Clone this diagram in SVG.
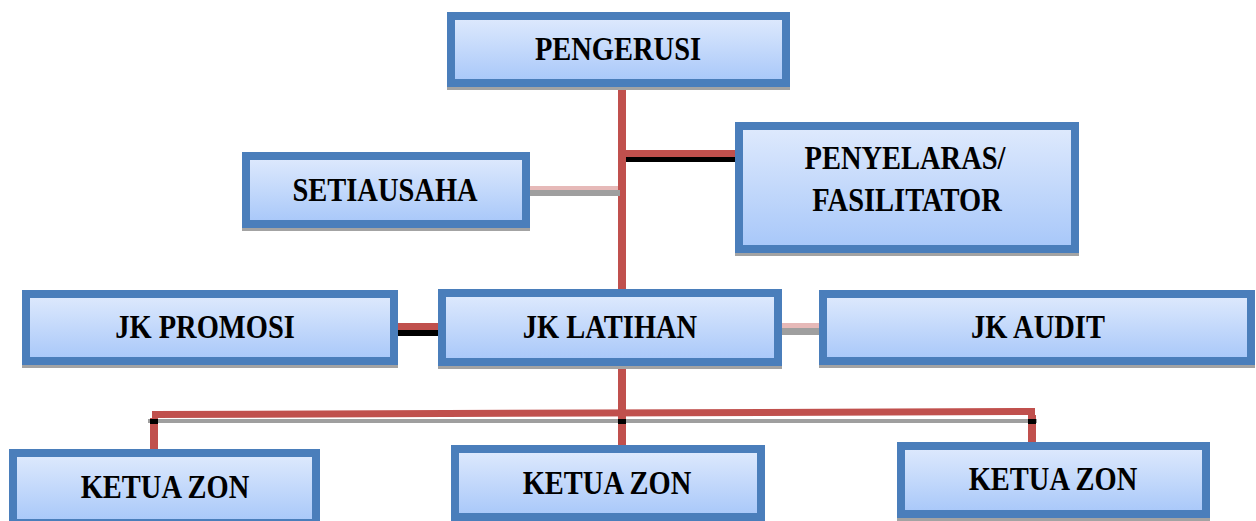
<svg xmlns="http://www.w3.org/2000/svg" width="1256" height="521" viewBox="0 0 1256 521">
<defs>
<linearGradient id="fill" x1="0" y1="0" x2="0" y2="1">
<stop offset="0" stop-color="#dfeafd"/>
<stop offset="1" stop-color="#a7c7f9"/>
</linearGradient>
<style>
.box{fill:url(#fill);stroke:#4a7ebb;stroke-width:8}
.sh{fill:#a3a3a3}
.t{font-family:"Liberation Serif","Times New Roman",serif;font-weight:bold;font-size:28.5px;fill:#000;text-anchor:middle}
.red{fill:#c0504d}
.blk{fill:#000}
.pink{fill:#e6b9b8}
.gry{fill:#9f9f9f}
</style>
</defs>
<rect width="1256" height="521" fill="#fff"/>
<g id="connectors">
<rect class="red" x="618" y="87" width="8" height="331"/>
<rect class="red" x="626" y="150" width="110" height="7"/>
<rect class="blk" x="626" y="157" width="110" height="5"/>
<rect class="pink" x="530" y="186" width="88" height="4"/>
<rect class="gry" x="530" y="190" width="90" height="6"/>
<rect class="red" x="398" y="323" width="40" height="7"/>
<rect class="blk" x="398" y="330" width="40" height="6"/>
<rect class="pink" x="782" y="323" width="37" height="5"/>
<rect class="gry" x="782" y="328" width="37" height="7"/>
<polygon class="red" points="152,411 1035,408 1035,415 152,418"/>
<rect class="gry" x="148" y="419" width="889" height="4"/>
<rect class="red" x="150" y="418" width="8" height="32"/>
<rect class="red" x="618" y="418" width="8" height="29"/>
<rect class="red" x="1028" y="415" width="8" height="28"/>
<rect class="blk" x="150" y="419" width="8" height="5"/>
<rect class="blk" x="618" y="419" width="8" height="5"/>
<rect class="blk" x="1028" y="419" width="8" height="5"/>
</g>
<g id="pengerusi">
<rect class="sh" x="447" y="15" width="343" height="75"/>
<rect class="box" x="451" y="16" width="335" height="67"/>
<text class="t" transform="translate(618,60) scale(1,1.15)">PENGERUSI</text>
</g>
<g id="setiausaha">
<rect class="sh" x="242" y="155" width="288" height="76"/>
<rect class="box" x="246" y="156" width="280" height="68"/>
<text class="t" transform="translate(385,201) scale(1,1.15)">SETIAUSAHA</text>
</g>
<g id="penyelaras">
<rect class="sh" x="735" y="125" width="344" height="131"/>
<rect class="box" x="739" y="126" width="336" height="123"/>
<text class="t" transform="translate(905,169) scale(1,1.15)">PENYELARAS/</text>
<text class="t" transform="translate(907,211) scale(1,1.15)">FASILITATOR</text>
</g>
<g id="jk-promosi">
<rect class="sh" x="22" y="293" width="376" height="75"/>
<rect class="box" x="26" y="294" width="368" height="67"/>
<text class="t" transform="translate(205,338) scale(1,1.15)">JK PROMOSI</text>
</g>
<g id="jk-latihan">
<rect class="sh" x="438" y="292" width="344" height="77"/>
<rect class="box" x="442" y="293" width="336" height="69"/>
<text class="t" transform="translate(610,338) scale(1,1.15)">JK LATIHAN</text>
</g>
<g id="jk-audit">
<rect class="sh" x="819" y="293" width="436" height="75"/>
<rect class="box" x="823" y="294" width="428" height="67"/>
<text class="t" transform="translate(1038,338) scale(1,1.15)">JK AUDIT</text>
</g>
<g id="ketua-zon-1">
<rect class="sh" x="9" y="452" width="311" height="78"/>
<rect class="box" x="13" y="453" width="303" height="70"/>
<text class="t" transform="translate(165,498) scale(1,1.15)">KETUA ZON</text>
</g>
<g id="ketua-zon-2">
<rect class="sh" x="451" y="448" width="314" height="76"/>
<rect class="box" x="455" y="449" width="306" height="68"/>
<text class="t" transform="translate(607,494) scale(1,1.15)">KETUA ZON</text>
</g>
<g id="ketua-zon-3">
<rect class="sh" x="897" y="445" width="313" height="76"/>
<rect class="box" x="901" y="446" width="305" height="68"/>
<text class="t" transform="translate(1053,490) scale(1,1.15)">KETUA ZON</text>
</g>
</svg>
